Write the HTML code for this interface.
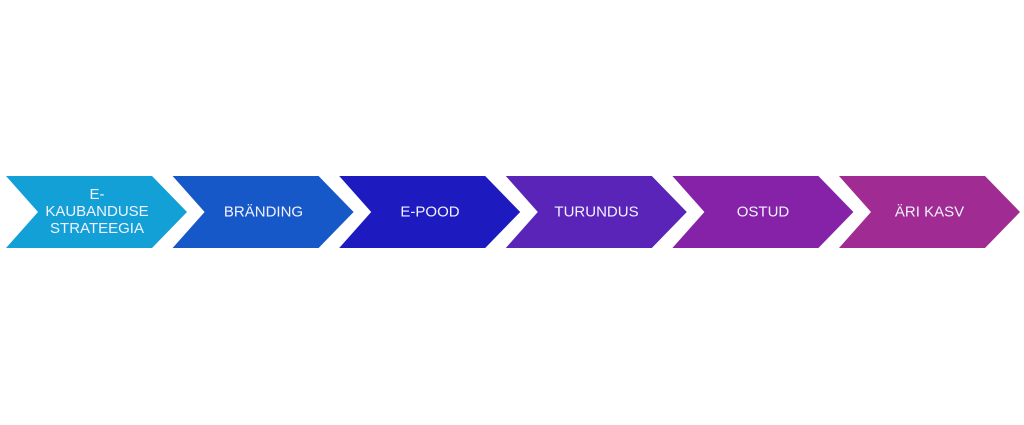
<!DOCTYPE html>
<html><head><meta charset="utf-8"><style>
html,body{margin:0;padding:0;background:#fff;}
body{width:1024px;height:425px;position:relative;overflow:hidden;}
svg{position:absolute;left:0;top:0;}
text{font-family:"Liberation Sans",sans-serif;font-size:15px;fill:#f2f2ff;text-anchor:middle;}
</style></head><body>
<svg width="1024" height="425" viewBox="0 0 1024 425">
<g>
<polygon points="6,176 152,176 187,212 152,248 6,248 38,212" fill="#12a0d6"/>
<polygon points="172.6,176 318.6,176 353.6,212 318.6,248 172.6,248 204.6,212" fill="#1758c8"/>
<polygon points="339.2,176 485.2,176 520.2,212 485.2,248 339.2,248 371.2,212" fill="#1d1bc0"/>
<polygon points="505.8,176 651.8,176 686.8,212 651.8,248 505.8,248 537.8,212" fill="#5a24b8"/>
<polygon points="672.4,176 818.4,176 853.4,212 818.4,248 672.4,248 704.4,212" fill="#8522a8"/>
<polygon points="839,176 985,176 1020,212 985,248 839,248 871,212" fill="#a02b92"/>
</g>
<text x="97" y="199">E-</text>
<text x="97" y="216">KAUBANDUSE</text>
<text x="97" y="233">STRATEEGIA</text>
<text x="263.5" y="216.5">BRÄNDING</text>
<text x="430" y="216.5">E-POOD</text>
<text x="596.5" y="216.5">TURUNDUS</text>
<text x="763" y="216.5">OSTUD</text>
<text x="929.5" y="216.5">ÄRI KASV</text>
</svg>
</body></html>
